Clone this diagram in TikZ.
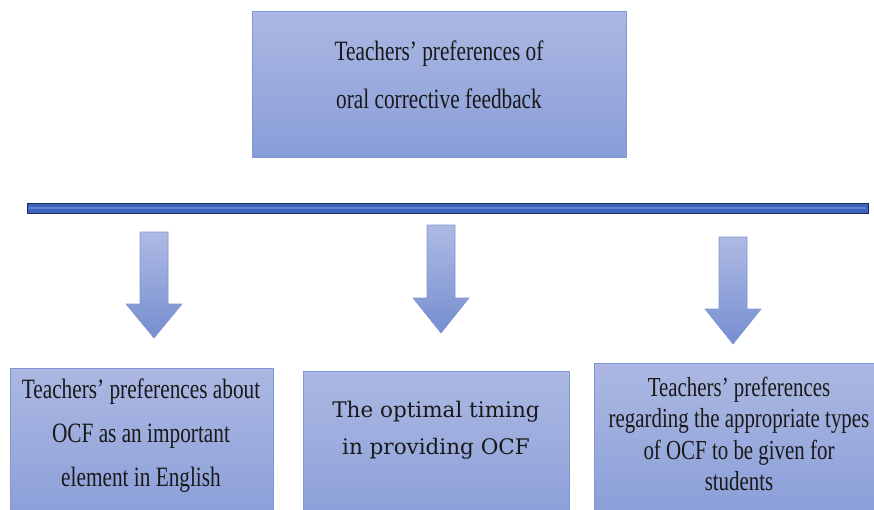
\documentclass[tikz,border=0pt]{standalone}
\usepackage{fontspec}
\setmainfont{Liberation Serif}[FakeStretch=0.76]
\newfontfamily\wideserif{DejaVu Serif}
\usetikzlibrary{positioning}

\definecolor{boxtop}{RGB}{172,184,226}
\definecolor{boxbot}{RGB}{136,157,216}
\definecolor{boxline}{RGB}{128,150,214}
\definecolor{arrtop}{RGB}{174,186,228}
\definecolor{arrbot}{RGB}{118,142,208}
\definecolor{barfill}{RGB}{60,100,188}
\definecolor{barmid}{RGB}{92,132,214}
\definecolor{barline}{RGB}{28,45,95}

% block arrow pointing down: centre x, top, start of head, tip
\newcommand{\dnarrow}[4]{%
  \shade[top color=arrtop, bottom color=arrbot, draw=boxline, line width=0.6pt]
    (#1-14,#2) -- (#1+14,#2) -- (#1+14,#3) -- (#1+28,#3) -- (#1,#4)
    -- (#1-28,#3) -- (#1-14,#3) -- cycle;}

\begin{document}
\begin{tikzpicture}[x=1pt, y=-1pt,
    box/.style={draw=boxline, line width=0.8pt, top color=boxtop, bottom color=boxbot, inner sep=0pt},
    txt/.style={align=center, inner sep=0pt, text=black!90}]
    \useasboundingbox (0,0) rectangle (874,509);

    \node[box, minimum width=374pt, minimum height=146pt] (main) at (439,84) {};
    \node[txt, font=\fontsize{28}{48}\selectfont] (maintxt) at (439,75)
        {Teachers’ preferences of\\oral corrective feedback};

    \fill[barfill, draw=barline, line width=1pt] (27,203) rectangle (868,213);
    \draw[barmid, line width=2.5pt] (29,208) -- (866,208);

    \dnarrow{154}{232}{304}{338}
    \dnarrow{441}{225}{298}{333}
    \dnarrow{733}{237}{309}{344}

    \node[box, minimum width=263pt, minimum height=160pt] (ocf) at (141.5,448) {};
    \node[box, minimum width=266pt, minimum height=160pt] (timing) at (436,451) {};
    \node[box, minimum width=290pt, minimum height=160pt] (types) at (739,443) {};

    \node[txt, font=\fontsize{28}{44}\selectfont] (ocftxt) at (141,436)
        {Teachers’ preferences about\\OCF as an important\\element in English};
    \node[txt, font=\wideserif\fontsize{21.5}{37}\selectfont] (timingtxt) at (436,430)
        {The optimal timing\\in providing OCF};
    \node[txt, font=\fontsize{27.5}{31.5}\selectfont] (typestxt) at (739,434)
        {Teachers’ preferences\\regarding the appropriate types\\of OCF to be given for\\students};
\end{tikzpicture}
\end{document}
